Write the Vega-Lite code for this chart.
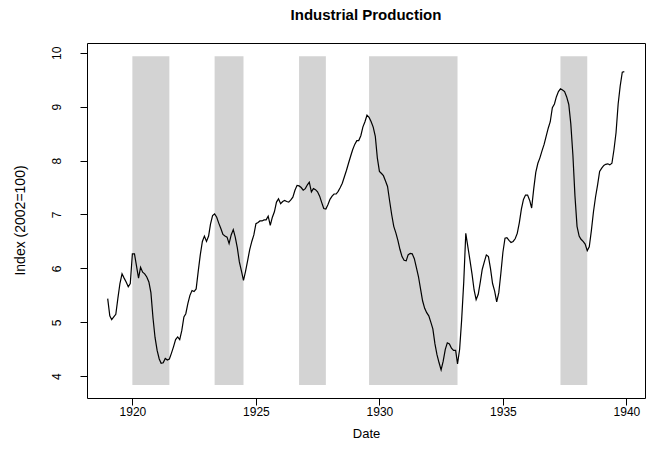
{
  "$schema": "https://vega.github.io/schema/vega-lite/v6.json",
  "width": 558,
  "height": 355,
  "autosize": {"type": "none"},
  "padding": {"left": 87, "top": 43, "right": 2, "bottom": 61},
  "background": "white",
  "title": {"text": "Industrial Production", "font": "Liberation Sans", "fontSize": 15, "fontWeight": "bold", "color": "black", "anchor": "middle", "baseline": "alphabetic", "offset": 8},
  "config": {
    "view": {"stroke": "black", "strokeWidth": 1},
    "axis": {"domain": false, "grid": false, "tickColor": "black", "tickSize": 7, "labelColor": "black", "titleColor": "black", "labelFont": "Liberation Sans", "titleFont": "Liberation Sans", "titleFontWeight": "normal"}
  },
  "datasets": {
    "rec": [
      {"start": "1920-01-01", "end": "1921-07-01"},
      {"start": "1923-05-01", "end": "1924-07-01"},
      {"start": "1926-10-01", "end": "1927-11-01"},
      {"start": "1929-08-01", "end": "1933-03-01"},
      {"start": "1937-05-01", "end": "1938-06-01"}
    ],
    "ip": [
      {"date": "1919-01-01", "v": 5.44}, {"date": "1919-02-01", "v": 5.12}, {"date": "1919-03-01", "v": 5.05}, {"date": "1919-04-01", "v": 5.10}, {"date": "1919-05-01", "v": 5.15}, {"date": "1919-06-01", "v": 5.45}, {"date": "1919-07-01", "v": 5.72}, {"date": "1919-08-01", "v": 5.90}, {"date": "1919-09-01", "v": 5.82}, {"date": "1919-10-01", "v": 5.75}, {"date": "1919-11-01", "v": 5.66}, {"date": "1919-12-01", "v": 5.72},
      {"date": "1920-01-01", "v": 6.27}, {"date": "1920-02-01", "v": 6.27}, {"date": "1920-03-01", "v": 6.05}, {"date": "1920-04-01", "v": 5.82}, {"date": "1920-05-01", "v": 6.02}, {"date": "1920-06-01", "v": 5.93}, {"date": "1920-07-01", "v": 5.90}, {"date": "1920-08-01", "v": 5.84}, {"date": "1920-09-01", "v": 5.75}, {"date": "1920-10-01", "v": 5.55}, {"date": "1920-11-01", "v": 5.08}, {"date": "1920-12-01", "v": 4.72},
      {"date": "1921-01-01", "v": 4.48}, {"date": "1921-02-01", "v": 4.32}, {"date": "1921-03-01", "v": 4.24}, {"date": "1921-04-01", "v": 4.25}, {"date": "1921-05-01", "v": 4.33}, {"date": "1921-06-01", "v": 4.30}, {"date": "1921-07-01", "v": 4.32}, {"date": "1921-08-01", "v": 4.43}, {"date": "1921-09-01", "v": 4.55}, {"date": "1921-10-01", "v": 4.68}, {"date": "1921-11-01", "v": 4.73}, {"date": "1921-12-01", "v": 4.68},
      {"date": "1922-01-01", "v": 4.85}, {"date": "1922-02-01", "v": 5.10}, {"date": "1922-03-01", "v": 5.16}, {"date": "1922-04-01", "v": 5.35}, {"date": "1922-05-01", "v": 5.50}, {"date": "1922-06-01", "v": 5.59}, {"date": "1922-07-01", "v": 5.57}, {"date": "1922-08-01", "v": 5.62}, {"date": "1922-09-01", "v": 5.95}, {"date": "1922-10-01", "v": 6.25}, {"date": "1922-11-01", "v": 6.50}, {"date": "1922-12-01", "v": 6.60},
      {"date": "1923-01-01", "v": 6.50}, {"date": "1923-02-01", "v": 6.60}, {"date": "1923-03-01", "v": 6.82}, {"date": "1923-04-01", "v": 6.98}, {"date": "1923-05-01", "v": 7.01}, {"date": "1923-06-01", "v": 6.95}, {"date": "1923-07-01", "v": 6.84}, {"date": "1923-08-01", "v": 6.74}, {"date": "1923-09-01", "v": 6.63}, {"date": "1923-10-01", "v": 6.60}, {"date": "1923-11-01", "v": 6.58}, {"date": "1923-12-01", "v": 6.46},
      {"date": "1924-01-01", "v": 6.62}, {"date": "1924-02-01", "v": 6.72}, {"date": "1924-03-01", "v": 6.58}, {"date": "1924-04-01", "v": 6.38}, {"date": "1924-05-01", "v": 6.12}, {"date": "1924-06-01", "v": 5.95}, {"date": "1924-07-01", "v": 5.78}, {"date": "1924-08-01", "v": 5.95}, {"date": "1924-09-01", "v": 6.15}, {"date": "1924-10-01", "v": 6.35}, {"date": "1924-11-01", "v": 6.50}, {"date": "1924-12-01", "v": 6.62},
      {"date": "1925-01-01", "v": 6.83}, {"date": "1925-02-01", "v": 6.85}, {"date": "1925-03-01", "v": 6.88}, {"date": "1925-04-01", "v": 6.88}, {"date": "1925-05-01", "v": 6.90}, {"date": "1925-06-01", "v": 6.90}, {"date": "1925-07-01", "v": 6.97}, {"date": "1925-08-01", "v": 6.80}, {"date": "1925-09-01", "v": 6.95}, {"date": "1925-10-01", "v": 7.05}, {"date": "1925-11-01", "v": 7.23}, {"date": "1925-12-01", "v": 7.29},
      {"date": "1926-01-01", "v": 7.20}, {"date": "1926-02-01", "v": 7.24}, {"date": "1926-03-01", "v": 7.26}, {"date": "1926-04-01", "v": 7.24}, {"date": "1926-05-01", "v": 7.23}, {"date": "1926-06-01", "v": 7.27}, {"date": "1926-07-01", "v": 7.32}, {"date": "1926-08-01", "v": 7.45}, {"date": "1926-09-01", "v": 7.54}, {"date": "1926-10-01", "v": 7.53}, {"date": "1926-11-01", "v": 7.50}, {"date": "1926-12-01", "v": 7.45},
      {"date": "1927-01-01", "v": 7.48}, {"date": "1927-02-01", "v": 7.55}, {"date": "1927-03-01", "v": 7.60}, {"date": "1927-04-01", "v": 7.42}, {"date": "1927-05-01", "v": 7.48}, {"date": "1927-06-01", "v": 7.46}, {"date": "1927-07-01", "v": 7.42}, {"date": "1927-08-01", "v": 7.34}, {"date": "1927-09-01", "v": 7.22}, {"date": "1927-10-01", "v": 7.11}, {"date": "1927-11-01", "v": 7.10}, {"date": "1927-12-01", "v": 7.18},
      {"date": "1928-01-01", "v": 7.28}, {"date": "1928-02-01", "v": 7.34}, {"date": "1928-03-01", "v": 7.38}, {"date": "1928-04-01", "v": 7.38}, {"date": "1928-05-01", "v": 7.43}, {"date": "1928-06-01", "v": 7.50}, {"date": "1928-07-01", "v": 7.58}, {"date": "1928-08-01", "v": 7.70}, {"date": "1928-09-01", "v": 7.82}, {"date": "1928-10-01", "v": 7.95}, {"date": "1928-11-01", "v": 8.08}, {"date": "1928-12-01", "v": 8.20},
      {"date": "1929-01-01", "v": 8.30}, {"date": "1929-02-01", "v": 8.37}, {"date": "1929-03-01", "v": 8.37}, {"date": "1929-04-01", "v": 8.46}, {"date": "1929-05-01", "v": 8.62}, {"date": "1929-06-01", "v": 8.72}, {"date": "1929-07-01", "v": 8.84}, {"date": "1929-08-01", "v": 8.80}, {"date": "1929-09-01", "v": 8.72}, {"date": "1929-10-01", "v": 8.62}, {"date": "1929-11-01", "v": 8.45}, {"date": "1929-12-01", "v": 8.05},
      {"date": "1930-01-01", "v": 7.80}, {"date": "1930-02-01", "v": 7.76}, {"date": "1930-03-01", "v": 7.72}, {"date": "1930-04-01", "v": 7.62}, {"date": "1930-05-01", "v": 7.52}, {"date": "1930-06-01", "v": 7.25}, {"date": "1930-07-01", "v": 7.00}, {"date": "1930-08-01", "v": 6.78}, {"date": "1930-09-01", "v": 6.66}, {"date": "1930-10-01", "v": 6.52}, {"date": "1930-11-01", "v": 6.35}, {"date": "1930-12-01", "v": 6.22},
      {"date": "1931-01-01", "v": 6.15}, {"date": "1931-02-01", "v": 6.14}, {"date": "1931-03-01", "v": 6.25}, {"date": "1931-04-01", "v": 6.28}, {"date": "1931-05-01", "v": 6.27}, {"date": "1931-06-01", "v": 6.18}, {"date": "1931-07-01", "v": 6.02}, {"date": "1931-08-01", "v": 5.85}, {"date": "1931-09-01", "v": 5.62}, {"date": "1931-10-01", "v": 5.40}, {"date": "1931-11-01", "v": 5.26}, {"date": "1931-12-01", "v": 5.18},
      {"date": "1932-01-01", "v": 5.12}, {"date": "1932-02-01", "v": 5.00}, {"date": "1932-03-01", "v": 4.88}, {"date": "1932-04-01", "v": 4.60}, {"date": "1932-05-01", "v": 4.40}, {"date": "1932-06-01", "v": 4.25}, {"date": "1932-07-01", "v": 4.12}, {"date": "1932-08-01", "v": 4.28}, {"date": "1932-09-01", "v": 4.50}, {"date": "1932-10-01", "v": 4.62}, {"date": "1932-11-01", "v": 4.60}, {"date": "1932-12-01", "v": 4.52},
      {"date": "1933-01-01", "v": 4.48}, {"date": "1933-02-01", "v": 4.48}, {"date": "1933-03-01", "v": 4.23}, {"date": "1933-04-01", "v": 4.50}, {"date": "1933-05-01", "v": 5.05}, {"date": "1933-06-01", "v": 5.75}, {"date": "1933-07-01", "v": 6.65}, {"date": "1933-08-01", "v": 6.40}, {"date": "1933-09-01", "v": 6.15}, {"date": "1933-10-01", "v": 5.90}, {"date": "1933-11-01", "v": 5.60}, {"date": "1933-12-01", "v": 5.42},
      {"date": "1934-01-01", "v": 5.52}, {"date": "1934-02-01", "v": 5.75}, {"date": "1934-03-01", "v": 5.98}, {"date": "1934-04-01", "v": 6.12}, {"date": "1934-05-01", "v": 6.25}, {"date": "1934-06-01", "v": 6.22}, {"date": "1934-07-01", "v": 6.00}, {"date": "1934-08-01", "v": 5.72}, {"date": "1934-09-01", "v": 5.58}, {"date": "1934-10-01", "v": 5.38}, {"date": "1934-11-01", "v": 5.55}, {"date": "1934-12-01", "v": 5.90},
      {"date": "1935-01-01", "v": 6.30}, {"date": "1935-02-01", "v": 6.56}, {"date": "1935-03-01", "v": 6.57}, {"date": "1935-04-01", "v": 6.52}, {"date": "1935-05-01", "v": 6.48}, {"date": "1935-06-01", "v": 6.50}, {"date": "1935-07-01", "v": 6.55}, {"date": "1935-08-01", "v": 6.65}, {"date": "1935-09-01", "v": 6.85}, {"date": "1935-10-01", "v": 7.10}, {"date": "1935-11-01", "v": 7.28}, {"date": "1935-12-01", "v": 7.36},
      {"date": "1936-01-01", "v": 7.36}, {"date": "1936-02-01", "v": 7.26}, {"date": "1936-03-01", "v": 7.12}, {"date": "1936-04-01", "v": 7.48}, {"date": "1936-05-01", "v": 7.78}, {"date": "1936-06-01", "v": 7.95}, {"date": "1936-07-01", "v": 8.05}, {"date": "1936-08-01", "v": 8.18}, {"date": "1936-09-01", "v": 8.30}, {"date": "1936-10-01", "v": 8.45}, {"date": "1936-11-01", "v": 8.60}, {"date": "1936-12-01", "v": 8.72},
      {"date": "1937-01-01", "v": 8.98}, {"date": "1937-02-01", "v": 9.05}, {"date": "1937-03-01", "v": 9.18}, {"date": "1937-04-01", "v": 9.28}, {"date": "1937-05-01", "v": 9.33}, {"date": "1937-06-01", "v": 9.31}, {"date": "1937-07-01", "v": 9.28}, {"date": "1937-08-01", "v": 9.18}, {"date": "1937-09-01", "v": 9.04}, {"date": "1937-10-01", "v": 8.68}, {"date": "1937-11-01", "v": 8.10}, {"date": "1937-12-01", "v": 7.35},
      {"date": "1938-01-01", "v": 6.78}, {"date": "1938-02-01", "v": 6.60}, {"date": "1938-03-01", "v": 6.54}, {"date": "1938-04-01", "v": 6.50}, {"date": "1938-05-01", "v": 6.45}, {"date": "1938-06-01", "v": 6.33}, {"date": "1938-07-01", "v": 6.40}, {"date": "1938-08-01", "v": 6.70}, {"date": "1938-09-01", "v": 7.05}, {"date": "1938-10-01", "v": 7.32}, {"date": "1938-11-01", "v": 7.55}, {"date": "1938-12-01", "v": 7.80},
      {"date": "1939-01-01", "v": 7.86}, {"date": "1939-02-01", "v": 7.91}, {"date": "1939-03-01", "v": 7.93}, {"date": "1939-04-01", "v": 7.94}, {"date": "1939-05-01", "v": 7.92}, {"date": "1939-06-01", "v": 7.95}, {"date": "1939-07-01", "v": 8.20}, {"date": "1939-08-01", "v": 8.52}, {"date": "1939-09-01", "v": 9.05}, {"date": "1939-10-01", "v": 9.38}, {"date": "1939-11-01", "v": 9.64}, {"date": "1939-12-01", "v": 9.65}
    ]
  },
  "layer": [
    {
      "data": {"name": "rec"},
      "mark": {"type": "rect", "color": "#D3D3D3", "strokeWidth": 0},
      "encoding": {
        "x": {
          "field": "start", "type": "temporal",
          "scale": {"type": "utc", "domain": [{"year": 1918, "month": 3, "date": 1, "utc": true}, {"year": 1940, "month": 10, "date": 2, "utc": true}]},
          "axis": {"title": "Date", "values": [{"year": 1920, "utc": true}, {"year": 1925, "utc": true}, {"year": 1930, "utc": true}, {"year": 1935, "utc": true}, {"year": 1940, "utc": true}], "format": "%Y", "labelFontSize": 12, "labelPadding": 1, "labelFlush": false, "labelOverlap": false, "titleFontSize": 13, "titlePadding": 10}
        },
        "x2": {"field": "end"},
        "y": {
          "datum": 3.84, "type": "quantitative",
          "scale": {"domain": [3.597, 10.18], "nice": false, "zero": false},
          "axis": {"title": "Index (2002=100)", "values": [4, 5, 6, 7, 8, 9, 10], "labelAngle": 270, "labelAlign": "center", "labelBaseline": "bottom", "labelFontSize": 12, "labelPadding": 17, "titleFontSize": 14, "titleAngle": 270, "titleAlign": "center", "titleBaseline": "middle", "titleX": -67, "titleY": 177}
        },
        "y2": {"datum": 9.935}
      }
    },
    {
      "data": {"name": "ip"},
      "mark": {"type": "line", "color": "black", "strokeWidth": 1.2, "interpolate": "linear"},
      "encoding": {
        "x": {
          "field": "date", "type": "temporal",
          "scale": {"type": "utc", "domain": [{"year": 1918, "month": 3, "date": 1, "utc": true}, {"year": 1940, "month": 10, "date": 2, "utc": true}]},
          "axis": {"title": "Date", "values": [{"year": 1920, "utc": true}, {"year": 1925, "utc": true}, {"year": 1930, "utc": true}, {"year": 1935, "utc": true}, {"year": 1940, "utc": true}], "format": "%Y", "labelFontSize": 12, "labelPadding": 1, "labelFlush": false, "labelOverlap": false, "titleFontSize": 13, "titlePadding": 10}
        },
        "y": {
          "field": "v", "type": "quantitative",
          "scale": {"domain": [3.597, 10.18], "nice": false, "zero": false},
          "axis": {"title": "Index (2002=100)", "values": [4, 5, 6, 7, 8, 9, 10], "labelAngle": 270, "labelAlign": "center", "labelBaseline": "bottom", "labelFontSize": 12, "labelPadding": 17, "titleFontSize": 14, "titleAngle": 270, "titleAlign": "center", "titleBaseline": "middle", "titleX": -67, "titleY": 177}
        }
      }
    }
  ]
}
